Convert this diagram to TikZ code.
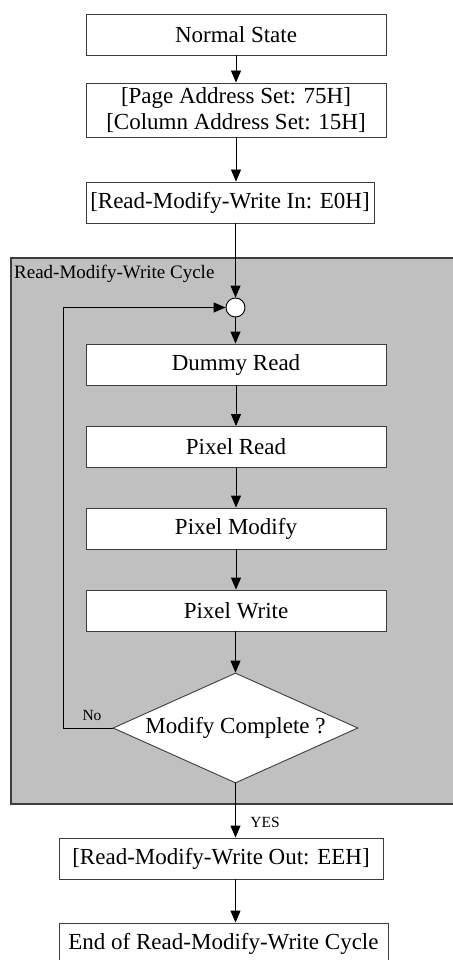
\documentclass[tikz,border=0pt]{standalone}
\usepackage{fontspec}
\setmainfont{Liberation Serif}
\usetikzlibrary{shapes.geometric,arrows.meta}
\definecolor{panelgray}{RGB}{192,192,192}
\definecolor{edgegray}{RGB}{60,60,60}
\begin{document}
\begin{tikzpicture}[x=1pt,y=-1pt,
  box/.style={draw=edgegray, line width=0.9pt, fill=white, inner sep=0pt,
    font=\fontsize{23}{27}\selectfont, align=center, text=black},
  decision/.style={diamond, draw=edgegray, line width=0.9pt, fill=white, inner sep=0pt,
    aspect=2.23, minimum width=245pt, minimum height=110pt,
    font=\fontsize{23}{27}\selectfont},
  junction/.style={circle, draw=black, line width=0.9pt, fill=white, minimum size=19pt, inner sep=0pt},
  arr/.style={-{Triangle[length=12pt,width=10pt]}, line width=0.9pt, draw=black},
  small/.style={font=\fontsize{15.5}{17}\selectfont, inner sep=0pt}]
\useasboundingbox (0,0) rectangle (452,960);
\fill[white] (0,0) rectangle (452,960);
% cycle panel
\draw[draw=edgegray, line width=1.6pt, fill=panelgray] (11,258) rectangle (462,804);
\node[anchor=west, font=\fontsize{19}{21}\selectfont, inner sep=0pt] (cyc) at (14,274) {Read-Modify-Write Cycle};
% nodes
\node[box, minimum width=300pt, minimum height=41pt] (ns) at (236,34.5) {Normal State};
\node[box, minimum width=300pt, minimum height=54pt] (pa) at (236,110) {[Page Address Set: 75H]\\[-1pt][Column Address Set: 15H]};
\node[box, minimum width=288pt, minimum height=41pt] (rin) at (230,202.5) {[Read-Modify-Write In: E0H]};
\node[junction] (c) at (235.5,307.5) {};
\node[box, minimum width=300pt, minimum height=41pt] (dr) at (236,364.5) {Dummy Read};
\node[box, minimum width=300pt, minimum height=41pt] (pr) at (236,447) {Pixel Read};
\node[box, minimum width=300pt, minimum height=41pt] (pm) at (236,528.5) {Pixel Modify};
\node[box, minimum width=300pt, minimum height=41pt] (pw) at (236,610.5) {Pixel Write};
\node[decision] (dm) at (235.5,728) {Modify Complete ?};
\node[box, minimum width=324pt, minimum height=41pt] (ro) at (221,858.5) {[Read-Modify-Write Out: EEH]};
\node[box, minimum width=329pt, minimum height=41pt] (en) at (223.5,943.5) {End of Read-Modify-Write Cycle};
\coordinate (lp) at (63,728);
% connectors
\draw[arr] (ns.south) -- (ns.south |- pa.north);
\draw[arr] (pa.south) -- (pa.south |- rin.north);
\draw[arr] (c |- rin.south) -- (c.north);
\draw[arr] (c.south) -- (c.south |- dr.north);
\draw[arr] (dr.south) -- (dr.south |- pr.north);
\draw[arr] (pr.south) -- (pr.south |- pm.north);
\draw[arr] (pm.south) -- (pm.south |- pw.north);
\draw[arr] (dm.north |- pw.south) -- (dm.north);
\draw[arr] (dm.west) -- (lp) |- (c.west);
\draw[arr] (dm.south) -- (dm.south |- ro.north);
\draw[arr] (dm.south |- ro.south) -- (dm.south |- en.north);
% labels
\node[small] (no) at (92,715) {No};
\node[small] (yes) at (265,822) {YES};
\end{tikzpicture}
\end{document}
